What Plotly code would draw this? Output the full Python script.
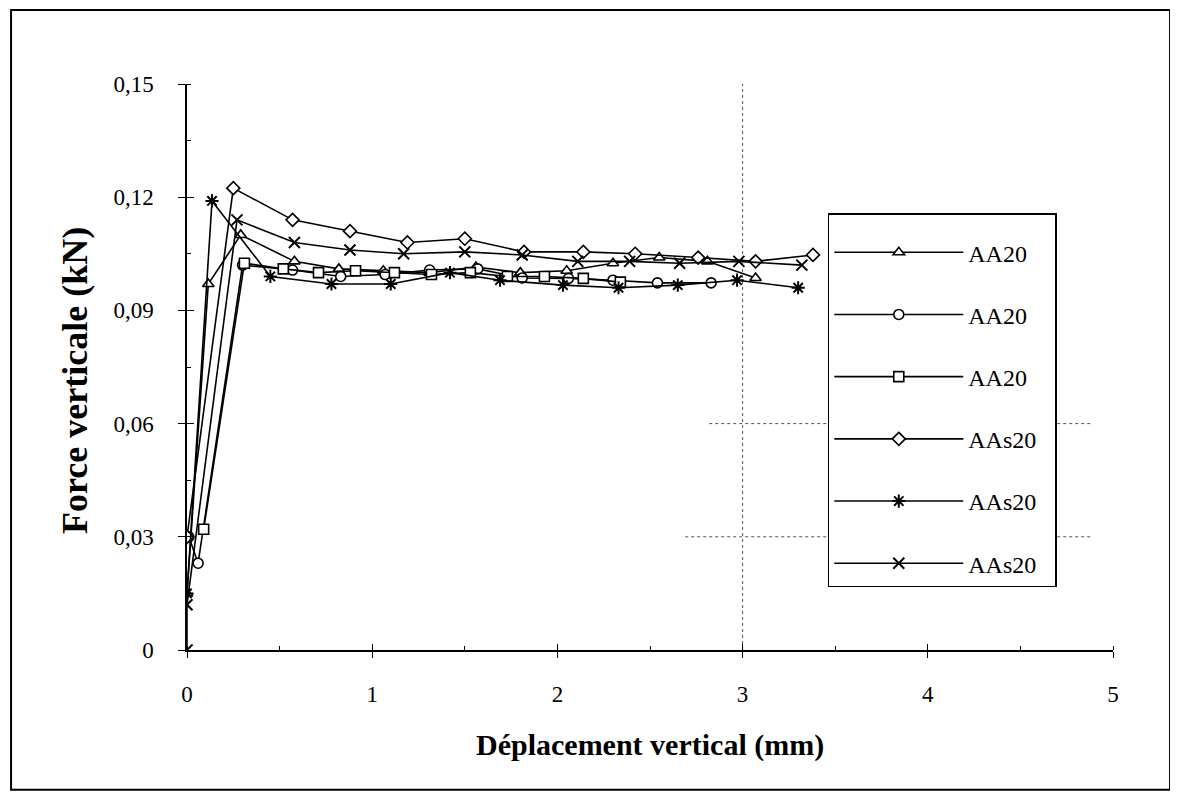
import plotly.graph_objects as go

# ---- data ----
tri_x = [0.0, 0.115, 0.29, 0.58, 0.82, 1.06, 1.31, 1.56, 1.80, 2.05, 2.30, 2.55, 2.81, 3.07]
tri_y = [0.015, 0.097, 0.110, 0.103, 0.101, 0.1005, 0.100, 0.1015, 0.100, 0.1005, 0.1025, 0.104, 0.103, 0.0986]

cir_x = [0.01, 0.06, 0.30, 0.57, 0.83, 1.07, 1.31, 1.57, 1.81, 2.06, 2.30, 2.54, 2.83]
cir_y = [0.030, 0.023, 0.102, 0.1007, 0.099, 0.0995, 0.1007, 0.101, 0.0986, 0.0985, 0.098, 0.0973, 0.0973]

sq_x = [0.09, 0.31, 0.52, 0.71, 0.91, 1.12, 1.32, 1.53, 1.73, 1.93, 2.14, 2.34]
sq_y = [0.032, 0.1025, 0.101, 0.100, 0.1005, 0.100, 0.0995, 0.100, 0.099, 0.099, 0.0985, 0.0975]

dia_x = [0.0, 0.25, 0.57, 0.88, 1.19, 1.50, 1.82, 2.14, 2.42, 2.76, 3.07, 3.38]
dia_y = [0.030, 0.1224, 0.114, 0.111, 0.108, 0.109, 0.1055, 0.1055, 0.105, 0.104, 0.103, 0.1047]

ast_x = [0.0, 0.135, 0.45, 0.78, 1.10, 1.42, 1.69, 2.03, 2.33, 2.65, 2.97, 3.30]
ast_y = [0.015, 0.119, 0.099, 0.097, 0.097, 0.100, 0.098, 0.0967, 0.096, 0.0967, 0.098, 0.096]

xs_x = [0.0, 0.0, 0.27, 0.58, 0.88, 1.17, 1.50, 1.81, 2.11, 2.39, 2.66, 2.98, 3.32]
xs_y = [0.0, 0.012, 0.114, 0.108, 0.106, 0.105, 0.1055, 0.1047, 0.103, 0.103, 0.1025, 0.103, 0.102]

names = ["AA20", "AA20", "AA20", "AAs20", "AAs20", "AAs20"]
symbols = ["triangle-up", "circle", "square", "diamond", "asterisk-open", "x-thin-open"]

x_ticks = [0, 1, 2, 3, 4, 5]
x_ticklabels = ["0", "1", "2", "3", "4", "5"]
y_ticks = [0, 0.03, 0.06, 0.09, 0.12, 0.15]
y_ticklabels = ["0", "0,03", "0,06", "0,09", "0,12", "0,15"]

series = [(tri_x, tri_y), (cir_x, cir_y), (sq_x, sq_y), (dia_x, dia_y), (ast_x, ast_y), (xs_x, xs_y)]

FONT = "Liberation Serif"

fig = go.Figure()
for i, ((sx, sy), nm, sym) in enumerate(zip(series, names, symbols)):
    open_sym = sym.endswith("open")
    fig.add_trace(go.Scatter(
        x=sx, y=sy, name=nm, mode="lines+markers", legendgroup=f"g{i}",
        line=dict(color="black", width=1.6),
        marker=dict(symbol=sym, size=11 if open_sym else 10,
                    color="black" if open_sym else "white",
                    line=dict(color="black", width=2 if open_sym else 1.6)),
    ))

# partial dotted grid lines seen on the scan
fig.add_shape(type="line", x0=3, x1=3, y0=0, y1=0.15, xref="x", yref="y",
              line=dict(color="#555", width=1, dash="dot"), layer="below")
fig.add_shape(type="line", x0=2.82, x1=4.88, y0=0.06, y1=0.06, xref="x", yref="y",
              line=dict(color="#555", width=1, dash="dot"), layer="below")
fig.add_shape(type="line", x0=2.69, x1=4.88, y0=0.03, y1=0.03, xref="x", yref="y",
              line=dict(color="#555", width=1, dash="dot"), layer="below")

# outer frame
fig.add_shape(type="rect", xref="paper", yref="paper",
              x0=-0.190, x1=1.0616, y0=-0.247, y1=1.1307,
              line=dict(color="black", width=2))

fig.update_layout(
    width=1178, height=800,
    margin=dict(l=179, r=73, t=76, b=158),
    paper_bgcolor="white", plot_bgcolor="white",
    font=dict(family=FONT, color="black", size=22),
    showlegend=True,
    legend=dict(x=0.692, y=0.772, xanchor="left", yanchor="top",
                bgcolor="white", bordercolor="black", borderwidth=1.5,
                font=dict(family=FONT, size=24), itemwidth=129,
                tracegroupgap=28,
                title=dict(text="\u00a0" * 74, font=dict(family=FONT, size=12))),
    xaxis=dict(range=[0, 5], tickmode="array", tickvals=x_ticks, ticktext=x_ticklabels,
               showgrid=False, zeroline=False, showline=True, linecolor="black", linewidth=1.5,
               ticks="outside", ticklen=6, tickwidth=1.2, tickcolor="black",
               minor=dict(dtick=0.5, ticks="inside", ticklen=4, tickcolor="black", showgrid=False),
               tickfont=dict(family=FONT, size=23), ticklabelstandoff=17, anchor="y"),
    yaxis=dict(range=[0, 0.15], tickmode="array", tickvals=y_ticks, ticktext=y_ticklabels,
               showgrid=False, zeroline=False, showline=True, linecolor="black", linewidth=1.5,
               ticks="outside", ticklen=7, tickwidth=1.2, tickcolor="black",
               minor=dict(dtick=0.015, ticks="inside", ticklen=4, tickcolor="black", showgrid=False),
               tickfont=dict(family=FONT, size=23), ticklabelstandoff=20, anchor="x"),
    xaxis2=dict(range=[0, 5], overlaying="x", anchor="y", side="bottom",
                tickmode="array", tickvals=x_ticks, showticklabels=False,
                ticks="inside", ticklen=6, tickwidth=1.2, tickcolor="black",
                showgrid=False, zeroline=False, showline=False),
    yaxis2=dict(range=[0, 0.15], overlaying="y", anchor="x", side="left",
                tickmode="array", tickvals=y_ticks, showticklabels=False,
                ticks="inside", ticklen=7, tickwidth=1.2, tickcolor="black",
                showgrid=False, zeroline=False, showline=False),
    annotations=[
        dict(text="<b>Déplacement vertical (mm)</b>", xref="paper", yref="paper",
             x=0.5, y=-0.168, xanchor="center", yanchor="middle", showarrow=False,
             font=dict(family=FONT, size=30)),
        dict(text="<b>Force verticale (kN)</b>", xref="paper", yref="paper",
             x=-0.121, y=0.477, xanchor="center", yanchor="middle", showarrow=False,
             textangle=-90, font=dict(family=FONT, size=36)),
    ],
)

# dummy invisible trace so that overlay axes are rendered
fig.add_trace(go.Scatter(x=[None], y=[None], xaxis="x2", yaxis="y2", showlegend=False,
                         hoverinfo="skip"))

fig.write_html("out.html")
